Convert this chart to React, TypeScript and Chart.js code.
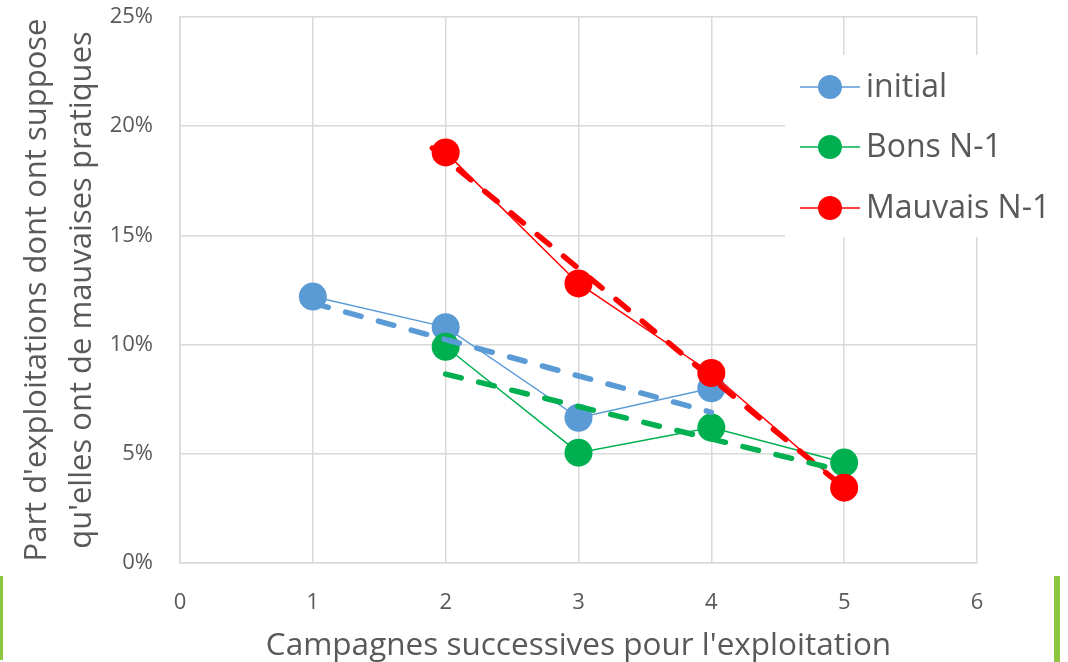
import React, { useEffect, useRef } from 'react';
import { Chart, registerables } from 'chart.js';

Chart.register(...registerables);

// ---- Data ----
const seriesNames = ['initial', 'Bons N-1', 'Mauvais N-1'];
const seriesColors = ['#5B9BD5', '#00B050', '#FF0000'];

const initialX = [1, 2, 3, 4];
const initialY = [12.2, 10.8, 6.65, 8.0];

const bonsX = [2, 3, 4, 5];
const bonsY = [9.9, 5.05, 6.2, 4.6];

const mauvaisX = [2, 3, 4, 5];
const mauvaisY = [18.8, 12.8, 8.7, 3.45];

// Trend lines (dashed), endpoints
const trendInitialX = [1, 4];
const trendInitialY = [11.9, 6.9];
const trendBonsX = [2, 5];
const trendBonsY = [8.65, 4.2];
const trendMauvaisX = [1.9, 5];
const trendMauvaisY = [19.0, 3.45];

const xTicks = [0, 1, 2, 3, 4, 5, 6];
const yTicks = [0, 5, 10, 15, 20, 25];

const xTitle = "Campagnes successives pour l'exploitation";
const yTitleLines = ["Part d'exploitations dont ont suppose", "qu'elles ont de mauvaises pratiques"];

const FONT = "'Open Sans', 'Noto Sans', sans-serif";
const TEXT = '#595959';
const GRID = '#D9D9D9';

const pts = (xs: number[], ys: number[]) => xs.map((x, i) => ({ x, y: ys[i] }));

const decorPlugin = {
  id: 'decor',
  afterDraw(chart: any) {
    const ctx = chart.ctx as CanvasRenderingContext2D;
    ctx.save();
    // Legend box
    ctx.fillStyle = '#FFFFFF';
    ctx.fillRect(785, 55, 1068 - 785, 237 - 55);
    const ys = [87, 147, 208];
    ctx.font = `32px ${FONT}`;
    ctx.textBaseline = 'middle';
    ctx.textAlign = 'left';
    seriesNames.forEach((name, i) => {
      const y = ys[i];
      ctx.strokeStyle = seriesColors[i];
      ctx.lineWidth = 1.5;
      ctx.beginPath();
      ctx.moveTo(800, y);
      ctx.lineTo(860, y);
      ctx.stroke();
      ctx.fillStyle = seriesColors[i];
      ctx.beginPath();
      ctx.arc(830, y, 12, 0, Math.PI * 2);
      ctx.fill();
      ctx.fillStyle = TEXT;
      ctx.fillText(name, 866, y + 1);
    });
    // X title
    const area = chart.chartArea;
    ctx.fillStyle = TEXT;
    ctx.font = `31.5px ${FONT}`;
    ctx.textAlign = 'center';
    ctx.textBaseline = 'alphabetic';
    ctx.fillText(xTitle, (area.left + area.right) / 2, 655);
    // Y title (two lines, rotated)
    const baseXs = [46, 91];
    ctx.font = `31px ${FONT}`;
    yTitleLines.forEach((line, i) => {
      ctx.save();
      ctx.translate(baseXs[i], (area.top + area.bottom) / 2);
      ctx.rotate(-Math.PI / 2);
      ctx.fillText(line, 0, 0);
      ctx.restore();
    });
    ctx.restore();
  },
};

export default function App() {
  const canvasRef = useRef<HTMLCanvasElement | null>(null);

  useEffect(() => {
    if (!canvasRef.current) return;
    const lineDs = (label: string, xs: number[], ys: number[], color: string, order: number) => ({
      label,
      data: pts(xs, ys),
      borderColor: color,
      backgroundColor: color,
      borderWidth: 1.5,
      pointRadius: 14,
      pointBorderWidth: 0,
      pointBackgroundColor: color,
      showLine: true,
      tension: 0,
      order,
    });
    const trendDs = (label: string, xs: number[], ys: number[], color: string) => ({
      label,
      data: pts(xs, ys),
      borderColor: color,
      backgroundColor: color,
      borderWidth: 5.5,
      borderDash: [16, 18],
      borderCapStyle: 'round',
      pointRadius: 0,
      showLine: true,
      tension: 0,
      order: 0,
    });

    const chart = new Chart(canvasRef.current, {
      type: 'scatter',
      data: {
        datasets: [
          trendDs('trend initial', trendInitialX, trendInitialY, seriesColors[0]),
          trendDs('trend bons', trendBonsX, trendBonsY, seriesColors[1]),
          trendDs('trend mauvais', trendMauvaisX, trendMauvaisY, seriesColors[2]),
          lineDs(seriesNames[0], initialX, initialY, seriesColors[0], 3),
          lineDs(seriesNames[1], bonsX, bonsY, seriesColors[1], 2),
          lineDs(seriesNames[2], mauvaisX, mauvaisY, seriesColors[2], 1),
        ] as any,
      },
      options: {
        animation: false,
        responsive: false,
        layout: { padding: { top: 17, right: 91, left: 0, bottom: 0 } },
        plugins: {
          legend: { display: false },
          tooltip: { enabled: false },
          title: { display: false },
        },
        scales: {
          x: {
            type: 'linear',
            min: xTicks[0],
            max: xTicks[xTicks.length - 1],
            afterBuildTicks: (s: any) => { s.ticks = xTicks.map((v) => ({ value: v })); },
            afterFit: (s: any) => {
              s.height = 99;
              s.paddingLeft = 0;
              s.paddingRight = 0;
              s.paddingTop = 0;
              s.paddingBottom = 0;
            },
            ticks: { color: TEXT, font: { family: FONT, size: 22 }, padding: 27 },
            grid: { color: GRID, lineWidth: 1.5, drawTicks: false },
            border: { color: GRID, width: 1.5 },
          },
          y: {
            type: 'linear',
            min: yTicks[0],
            max: yTicks[yTicks.length - 1],
            afterBuildTicks: (s: any) => { s.ticks = yTicks.map((v) => ({ value: v })); },
            afterFit: (s: any) => {
              s.width = 180;
              s.paddingLeft = 0;
              s.paddingRight = 0;
              s.paddingTop = 0;
              s.paddingBottom = 0;
            },
            ticks: {
              color: TEXT,
              font: { family: FONT, size: 22 },
              padding: 27,
              callback: (v: any) => `${v}%`,
            },
            grid: { color: GRID, lineWidth: 1.5, drawTicks: false },
            border: { color: GRID, width: 1.5 },
          },
        },
      } as any,
      plugins: [decorPlugin],
    });
    return () => chart.destroy();
  }, []);

  return (
    <div style={{ position: 'fixed', left: 0, top: 0, width: 1068, height: 662, background: '#FFFFFF' }}>
      <canvas ref={canvasRef} width={1068} height={662} style={{ display: 'block' }} />
      <div style={{ position: 'absolute', left: 0, top: 576, width: 3, height: 84, background: '#8CC63F' }} />
      <div style={{ position: 'absolute', left: 1054, top: 576, width: 6, height: 86, background: '#8CC63F' }} />
    </div>
  );
}
